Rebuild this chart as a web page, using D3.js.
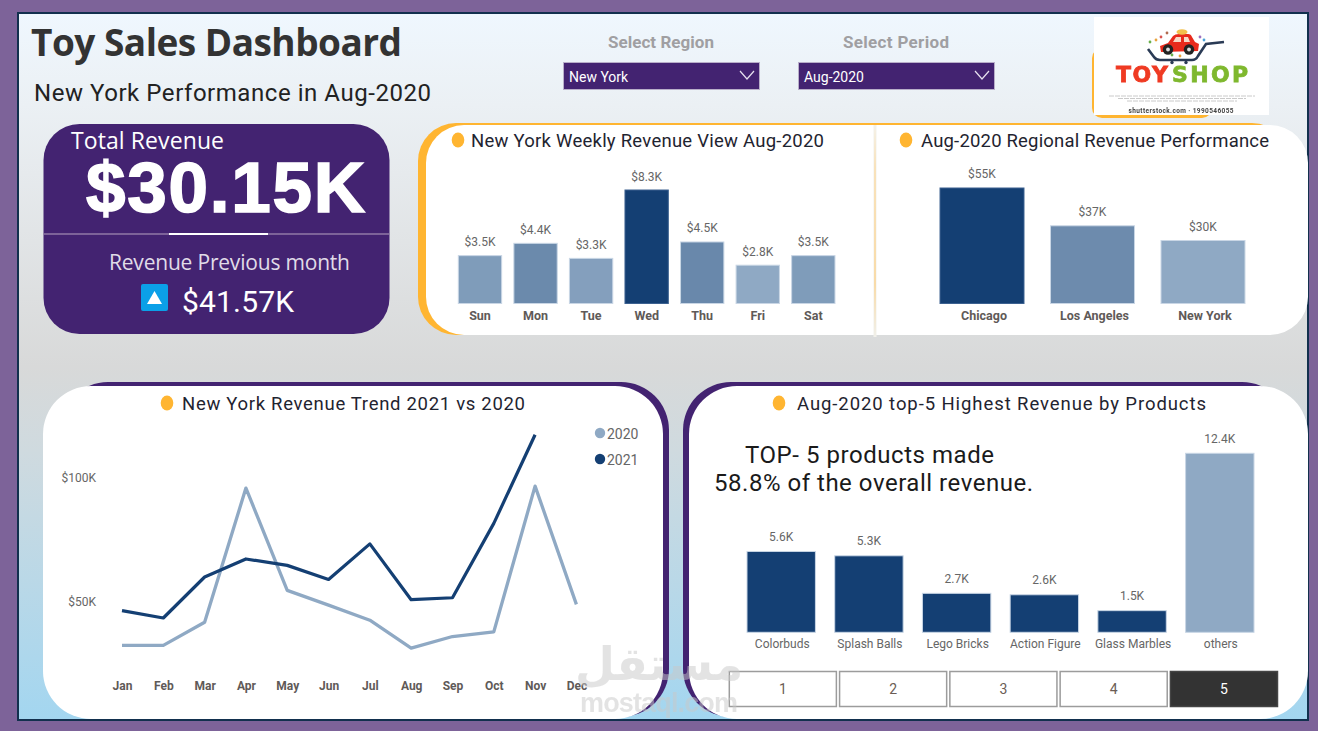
<!DOCTYPE html>
<html>
<head>
<meta charset="utf-8">
<script src="https://cdn.jsdelivr.net/npm/d3@7"></script>
<style>
  html, body { margin: 0; padding: 0; background: #7d6399; overflow: hidden; }
  svg { display: block; }
  text { font-family: Roboto, sans-serif; }
</style>
</head>
<body>
<script>
// Revenue figures, in thousands of dollars
const weekdays = ["Sun", "Mon", "Tue", "Wed", "Thu", "Fri", "Sat"];
const weekdayRevenue = [3.5, 4.4, 3.3, 8.3, 4.5, 2.8, 3.5];
const regions = ["Chicago", "Los Angeles", "New York"];
const regionRevenue = [55, 37, 30];
const months = ["Jan", "Feb", "Mar", "Apr", "May", "Jun", "Jul", "Aug", "Sep", "Oct", "Nov", "Dec"];
const revenue2020 = [32.1, 32.1, 41.5, 95.8, 54.4, 48.4, 42.3, 31, 35.7, 37.6, 96.6, 48.7];
const revenue2021 = [46.2, 43.2, 59.8, 67.1, 64.5, 58.8, 73.2, 50.6, 51.4, 81.5, 117.4];
const trendTicks = [50, 100];
const products = ["Colorbuds", "Splash Balls", "Lego Bricks", "Action Figure", "Glass Marbles", "others"];
const productRevenue = [5.6, 5.3, 2.7, 2.6, 1.5, 12.4];
const pages = ["1", "2", "3", "4", "5"];
const activePage = "5";

const navy = "#143f73", pale = "#8fa9c4", purple = "#432371", amber = "#ffb531";
const width = 1318, height = 731;

const svg = d3.select("body").append("svg").attr("width", width).attr("height", height);
const defs = svg.append("defs");

const bg = defs.append("linearGradient").attr("id", "pageFill").attr("x1", 0).attr("y1", 0).attr("x2", 0).attr("y2", 1);
[[0, "#eff7fe"], [0.13, "#ebf0f4"], [0.5, "#d8d9d9"], [0.62, "#cfdadf"], [1, "#a3d6f0"]].forEach(([o, c]) =>
  bg.append("stop").attr("offset", o).attr("stop-color", c));

const soft = defs.append("filter").attr("id", "soft");
soft.append("feGaussianBlur").attr("stdDeviation", 0.45);

// Places a text so that it spans an exact run of pixels when a width is supplied
function label(parent, str, x, y, o = {}) {
  const t = parent.append("text").attr("x", x).attr("y", y).text(str)
    .attr("font-size", o.size || 14)
    .attr("font-weight", o.weight || 400)
    .attr("fill", o.fill || "#222")
    .attr("text-anchor", o.anchor || "start")
    .style("font-family", o.family || "Roboto, sans-serif");
  if (o.fit) t.attr("textLength", o.fit).attr("lengthAdjust", "spacing");
  return t;
}
function card(x, y, w, h, r, fill) {
  return svg.append("rect").attr("x", x).attr("y", y).attr("width", w).attr("height", h).attr("rx", r).attr("fill", fill);
}
function panelTitle(str, dotX, x, y, fit) {
  svg.append("ellipse").attr("cx", dotX).attr("cy", y - 7).attr("rx", 6.3).attr("ry", 7.5).attr("fill", amber);
  label(svg, str, x, y, { size: 18.5, fill: "#1f2430", fit });
}

// Frame and background
svg.append("rect").attr("x", 18).attr("y", 13).attr("width", 1290).attr("height", 707)
  .attr("fill", "url(#pageFill)").attr("stroke", "#12304e").attr("stroke-width", 2);

// Heading
label(svg, "Toy Sales Dashboard", 31, 56, { size: 37, weight: 700, fill: "#333", family: "'Open Sans', sans-serif", fit: 371 });
label(svg, "New York Performance in Aug-2020", 34, 101, { size: 24, fill: "#222", fit: 397 });

// Slicers
const slicers = [
  { title: "Select Region", value: "New York", x: 563 },
  { title: "Select Period", value: "Aug-2020", x: 798 }
];
slicers.forEach(s => {
  label(svg, s.title, s.x + 98, 48, { size: 17, weight: 700, fill: "#a09fa2", anchor: "middle", fit: 106 });
  svg.append("rect").attr("x", s.x + 0.5).attr("y", 62.5).attr("width", 196).attr("height", 27)
    .attr("fill", purple).attr("stroke", "#b8aec9");
  label(svg, s.value, s.x + 6, 82, { size: 14, fill: "#fff" });
  svg.append("path")
    .attr("d", d3.line()([[s.x + 177, 71], [s.x + 184, 79], [s.x + 191, 71]]))
    .attr("fill", "none").attr("stroke", "#e6e0ee").attr("stroke-width", 1.2);
});

// Brand logo
card(1092, 48, 120, 70, 10, amber);
const logo = svg.append("g").attr("filter", "url(#soft)");
logo.append("rect").attr("x", 1094).attr("y", 17).attr("width", 175).attr("height", 98).attr("fill", "#fff");
logo.append("path").attr("d", "M1148 49 L1154 57 Q1156 60 1160 60 L1192 60 Q1196 60 1198 56 L1206 44 L1224 42")
  .attr("fill", "none").attr("stroke", "#2b3a55").attr("stroke-width", 2.6);
logo.append("path").attr("d", "M1160 46 L1168 43 L1173 36 Q1175 34 1179 34 L1188 34 Q1191 34 1192 37 L1195 42 L1199 44 L1198 51 L1161 52 Z")
  .attr("fill", "#e8291c");
logo.append("path").attr("d", "M1176 37 h5 v5 h-8 Z M1184 37 h4 l2 5 h-6 Z").attr("fill", "#f7d9c8");
[1168, 1189].forEach(cx => {
  logo.append("circle").attr("cx", cx).attr("cy", 49.5).attr("r", 5.2).attr("fill", "#222");
  logo.append("circle").attr("cx", cx).attr("cy", 49.5).attr("r", 1.9).attr("fill", "#ddd");
});
logo.append("ellipse").attr("cx", 1182).attr("cy", 32).attr("rx", 5.5).attr("ry", 2.8).attr("fill", "#f2c14e");
[[1156, 40, "#e8a33d"], [1161, 37, "#d9534f"], [1150, 42, "#6ab04c"], [1200, 37, "#9b6fc0"], [1204, 40, "#4da3d9"], [1167, 33, "#b06a4f"], [1172, 55, "#6ab04c"], [1180, 56, "#e8a33d"]]
  .forEach(([cx, cy, c]) => logo.append("circle").attr("cx", cx).attr("cy", cy).attr("r", 1.4).attr("fill", c));
[1172, 1186].forEach(cx => logo.append("circle").attr("cx", cx).attr("cy", 62.5).attr("r", 1.7).attr("fill", "#2b3a55"));
label(logo, "TOY", 1116, 82, { size: 22, weight: 700, fill: "#ef3a24", family: "'DejaVu Sans', sans-serif", fit: 52 })
  .attr("stroke", "#ef3a24").attr("stroke-width", 0.8);
label(logo, "SHOP", 1172, 82, { size: 22, weight: 700, fill: "#7fb82e", family: "'DejaVu Sans', sans-serif", fit: 76 })
  .attr("stroke", "#7fb82e").attr("stroke-width", 0.8);
[96, 98.5, 101].forEach((y, i) =>
  logo.append("line").attr("x1", 1109 + i * 9).attr("x2", 1255 - i * 9).attr("y1", y).attr("y2", y)
    .attr("stroke", "#c4c4c4").attr("stroke-width", 0.9).attr("stroke-dasharray", "5 1"));
label(logo, "shutterstock.com · 1990546055", 1181, 113, { size: 6.5, weight: 700, fill: "#444", anchor: "middle", fit: 105 });

// Headline figure card
card(43.5, 124, 346, 210, 36, purple);
label(svg, "Total Revenue", 71, 149, { size: 23, fill: "#fff", family: "'Open Sans', sans-serif", fit: 153 });
label(svg, "$30.15K", 86, 212, { size: 71, weight: 700, fill: "#fff", family: "'Liberation Sans', sans-serif", fit: 279 })
  .attr("stroke", "#fff").attr("stroke-width", 1.6);
svg.append("line").attr("x1", 44).attr("x2", 389).attr("y1", 234).attr("y2", 234).attr("stroke", "#7d6399").attr("stroke-width", 2);
svg.append("line").attr("x1", 169).attr("x2", 268).attr("y1", 234).attr("y2", 234).attr("stroke", "#fff").attr("stroke-width", 2);
label(svg, "Revenue Previous month", 109, 270, { size: 21, fill: "#e0dce8", family: "'Open Sans', sans-serif", fit: 241 });
svg.append("rect").attr("x", 141).attr("y", 284).attr("width", 27).attr("height", 27).attr("rx", 2).attr("fill", "#0ba0e8");
svg.append("path").attr("d", d3.line()([[154.5, 291], [162, 304], [147, 304]])).attr("fill", "#fff");
label(svg, "$41.57K", 182, 312, { size: 30, fill: "#fff", fit: 112 });

// Weekly and regional panel
card(418, 123, 872, 212, 38, amber);
card(426, 125, 882, 210, 38, "#fff");
const seam = defs.append("linearGradient").attr("id", "seam").attr("x1", 0).attr("y1", 0).attr("x2", 0).attr("y2", 1);
[[0, "#f6f2e6"], [0.2, "#ffd38a"], [0.75, "#ffc565"], [1, "#efefe9"]].forEach(([o, c]) =>
  seam.append("stop").attr("offset", o).attr("stop-color", c));
svg.append("rect").attr("x", 873.5).attr("y", 125).attr("width", 3).attr("height", 212).attr("fill", "#f2f1ec");
svg.append("rect").attr("x", 874.5).attr("y", 125).attr("width", 1).attr("height", 212).attr("fill", "url(#seam)");
panelTitle("New York Weekly Revenue View Aug-2020", 458, 471, 147, 353);
panelTitle("Aug-2020 Regional Revenue Performance", 906, 921, 147, 348);

// Draws one vertical bar chart with value labels and a category axis
function barChart(o) {
  const x = d3.scaleBand().domain(o.categories).range(o.xRange).padding(o.padding);
  const y = d3.scaleLinear().domain([0, o.maxValue]).range([o.baseY, o.topY]);
  const rows = o.categories.map((c, i) => ({ c, v: o.values[i] }));
  const g = svg.append("g");
  g.selectAll("rect").data(rows).join("rect")
    .attr("x", d => x(d.c)).attr("width", x.bandwidth())
    .attr("y", d => y(d.v)).attr("height", d => y(0) - y(d.v))
    .attr("fill", d => o.color(d))
    .attr("stroke", d => d.v === o.maxValue && o.dark ? "#3c6190" : "#c9d6e5").attr("stroke-width", 1);
  g.selectAll("text.value").data(rows).join("text").attr("class", "value")
    .attr("x", d => x(d.c) + x.bandwidth() / 2).attr("y", d => y(d.v) - o.labelGap)
    .attr("text-anchor", "middle").attr("font-size", 12).attr("fill", "#666")
    .text(d => o.format(d.v));
  const axis = svg.append("g").attr("transform", `translate(${o.axisShift || 0},${o.baseY + o.axisGap})`)
    .call(d3.axisBottom(x).tickSize(0).tickPadding(0));
  axis.select(".domain").remove();
  axis.selectAll("text").attr("font-size", o.axisSize).attr("font-weight", o.axisWeight)
    .attr("fill", o.axisFill).attr("font-family", "Roboto, sans-serif");
  return g;
}

const shade = d3.scaleLinear().range([pale, navy]).interpolate(d3.interpolateRgb);

barChart({
  categories: weekdays, values: weekdayRevenue, xRange: [446.1, 847.2], padding: 0.22,
  baseY: 303.5, topY: 190, maxValue: 8.3, dark: true,
  color: d => shade.copy().domain(d3.extent(weekdayRevenue))(d.v),
  format: v => `$${v.toFixed(1)}K`, labelGap: 9.5, axisGap: 8, axisSize: 12.5, axisWeight: 700, axisFill: "#5f5a58"
});
barChart({
  categories: regions, values: regionRevenue, xRange: [913.5, 1271.5], padding: 0.24,
  baseY: 303.5, topY: 188, maxValue: 55, dark: true,
  color: d => shade.copy().domain(d3.extent(regionRevenue))(d.v),
  format: v => `$${v}K`, labelGap: 10, axisGap: 8, axisShift: 2, axisSize: 12.5, axisWeight: 700, axisFill: "#5f5a58"
});

// Year-over-year trend panel
card(60, 382, 609, 335, 48, purple);
card(43, 386, 620, 333, 48, "#fff");
panelTitle("New York Revenue Trend 2021 vs 2020", 167, 182, 410, 343);

const xMonth = d3.scalePoint().domain(months).range([122, 576.4]);
const yTrend = d3.scaleLinear().domain([0, 100]).range([724.7, 477.7]);
const trendLine = d3.line().x((d, i) => xMonth(months[i])).y(d => yTrend(d));
[[revenue2020, pale, 3.3], [revenue2021, navy, 3.2]].forEach(([values, color, w]) => {
  svg.append("path").attr("d", trendLine(values)).attr("fill", "none")
    .attr("stroke", color).attr("stroke-width", w).attr("stroke-linejoin", "round");
});

const trendX = svg.append("g").attr("transform", "translate(0,681)").call(d3.axisBottom(xMonth).tickSize(0).tickPadding(0));
trendX.select(".domain").remove();
trendX.selectAll("text").attr("font-size", 12).attr("font-weight", 700).attr("fill", "#5f5a58").attr("font-family", "Roboto, sans-serif");
const trendY = svg.append("g").attr("transform", "translate(96,0)")
  .call(d3.axisLeft(yTrend).tickValues(trendTicks).tickSize(0).tickPadding(0).tickFormat(v => `$${v}K`));
trendY.select(".domain").remove();
trendY.selectAll("text").attr("font-size", 12).attr("fill", "#666").attr("font-family", "Roboto, sans-serif");

[["2020", pale, 434], ["2021", navy, 460]].forEach(([name, color, y]) => {
  svg.append("circle").attr("cx", 600).attr("cy", y - 1).attr("r", 5.2).attr("fill", color);
  label(svg, name, 607, y + 5, { size: 14, fill: "#666" });
});

// Product ranking panel
card(683, 382, 607, 335, 48, purple);
card(689, 386, 619, 333, 48, "#fff");
panelTitle("Aug-2020 top-5 Highest Revenue by Products", 779, 797, 410, 409);
label(svg, "TOP- 5 products made", 745, 463, { size: 24, fill: "#1a1a1a", fit: 249 });
label(svg, "58.8% of the overall revenue.", 714, 491, { size: 24, fill: "#1a1a1a", fit: 319 });

barChart({
  categories: products, values: productRevenue, xRange: [727.7, 1273.3], padding: 0.22,
  baseY: 632.3, topY: 453.3, maxValue: 12.4, dark: false,
  color: d => d.c === "others" ? pale : navy,
  format: v => `${v.toFixed(1)}K`, labelGap: 10.5, axisGap: 7.5, axisShift: 1, axisSize: 12, axisWeight: 400, axisFill: "#666"
});

// Page selector buttons
const xPage = d3.scaleBand().domain(pages).range([728.8, 1278]).paddingInner(0.02);
const pageBtn = svg.append("g").selectAll("g").data(pages).join("g")
  .attr("transform", d => `translate(${xPage(d)},671)`);
pageBtn.append("rect").attr("x", 0.5).attr("y", 0.5).attr("width", xPage.bandwidth() - 1).attr("height", 35)
  .attr("fill", d => d === activePage ? "#333" : "#fff")
  .attr("stroke", d => d === activePage ? "#444" : "#9c9c9c").attr("stroke-width", 1.5);
pageBtn.append("text").attr("x", xPage.bandwidth() / 2).attr("y", 23).attr("text-anchor", "middle")
  .attr("font-size", 14).attr("fill", d => d === activePage ? "#fff" : "#6b5d55").text(d => d);

// Site mark laid over the lower edge
const mark = svg.append("g").attr("opacity", 0.5);
label(mark, "مستقل", 659, 680, { size: 46, weight: 700, fill: "#c9c9c9", anchor: "middle", family: "'DejaVu Sans', sans-serif" });
label(mark, "mostaql.com", 659, 712, { size: 27, weight: 700, fill: "#c9c9c9", anchor: "middle", family: "'Liberation Sans', sans-serif", fit: 158 });
</script>
</body>
</html>
